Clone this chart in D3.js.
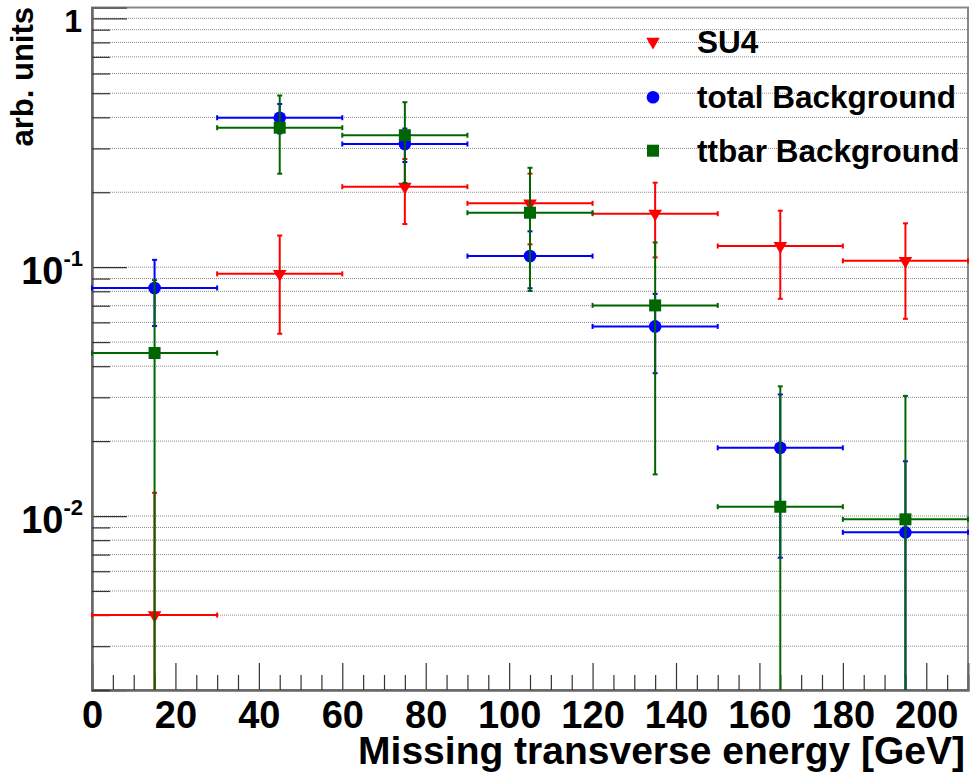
<!DOCTYPE html>
<html>
<head>
<meta charset="utf-8">
<script src="https://cdn.jsdelivr.net/npm/d3@7"></script>
<style>
  body { margin: 0; background: #fff; }
  svg { display: block; font-family: "Liberation Sans", Arial, sans-serif; font-weight: bold; }
</style>
</head>
<body>
<svg id="chart"></svg>
<script>
// bins of missing ET, 30 GeV wide
const binCenters = [15, 45, 75, 105, 135, 165, 195];
const binHalfWidth = 15;

const su4Values = [0.0040, 0.094, 0.2105, 0.1805, 0.164, 0.1216, 0.106];
const su4Errors = [0.0084, 0.040, 0.0615, 0.057, 0.0545, 0.047, 0.044];

const totalValues = [0.0825, 0.3985, 0.3125, 0.1108, 0.0578, 0.0188, 0.0086];
const totalErrors = [0.0245, 0.054, 0.048, 0.0285, 0.0203, 0.012, 0.008];

const ttbarValues = [0.0452, 0.3634, 0.339, 0.1655, 0.0702, 0.0109, 0.0097];
const ttbarErrors = [0.0435, 0.126, 0.121, 0.0853, 0.0555, 0.0223, 0.0207];

const xTickValues = [0, 20, 40, 60, 80, 100, 120, 140, 160, 180, 200];
const yLabelValues = [1, 0.1, 0.01];

const legendLabels = ["SU4", "total Background", "ttbar Background"];

const width = 973;
const height = 777;
const plot = { left: 92, right: 968, top: 7.5, bottom: 690 };

const xScale = d3.scaleLinear().domain([0, 210]).range([plot.left, plot.right]);
const yScale = d3
  .scaleLog()
  .domain([0.002, 1.105])
  .range([plot.bottom, plot.top])
  .clamp(true);

const svg = d3.select("#chart").attr("width", width).attr("height", height);
svg.append("rect").attr("width", width).attr("height", height).attr("fill", "#fff");

// log grid: every decade step inside the domain
const gridValues = [];
[0.001, 0.01, 0.1, 1].forEach(dec => {
  for (let k = 1; k <= 9; k++) {
    const v = dec * k;
    if (v >= 0.002 && v <= 1.105) gridValues.push(v);
  }
});
const majorY = gridValues.filter(v => Math.abs(Math.log10(v) - Math.round(Math.log10(v))) < 1e-9);
const minorY = gridValues.filter(v => !majorY.includes(v));

svg
  .append("g")
  .selectAll("line")
  .data(gridValues)
  .join("line")
  .attr("x1", plot.left)
  .attr("x2", plot.right)
  .attr("y1", d => yScale(d))
  .attr("y2", d => yScale(d))
  .attr("stroke", "#888")
  .attr("stroke-width", 1)
  .attr("stroke-dasharray", "1,1");

// frame
svg
  .append("rect")
  .attr("x", plot.left)
  .attr("y", plot.top)
  .attr("width", plot.right - plot.left)
  .attr("height", plot.bottom - plot.top)
  .attr("fill", "none")
  .attr("stroke", "#888")
  .attr("stroke-width", 2);

/* ***** axes ***** */
const xMajor = d3.axisBottom(xScale).tickValues(xTickValues).tickSize(-27).tickFormat(d3.format("d"));
const xMinor = d3
  .axisBottom(xScale)
  .tickValues(d3.range(0, 210, 5).filter(v => v % 20 !== 0))
  .tickSize(-15)
  .tickFormat("");

const xAxisG = svg.append("g").attr("transform", `translate(0, ${plot.bottom})`).call(xMajor);
svg.append("g").attr("transform", `translate(0, ${plot.bottom})`).call(xMinor);

xAxisG
  .selectAll("text")
  .attr("y", 38)
  .attr("dy", null)
  .attr("fill", "#000")
  .style("font-size", "38px")
  .style("font-family", '"Liberation Sans", Arial, sans-serif')
  .style("font-weight", "bold");

const yMajor = d3.axisLeft(yScale).tickValues(majorY).tickSize(-35).tickFormat("");
const yMinor = d3.axisLeft(yScale).tickValues(minorY).tickSize(-18).tickFormat("");
svg.append("g").attr("transform", `translate(${plot.left}, 0)`).call(yMajor);
svg.append("g").attr("transform", `translate(${plot.left}, 0)`).call(yMinor);

svg.selectAll(".domain").attr("stroke", "#666").attr("stroke-width", 2);
svg.selectAll(".tick line").attr("stroke", "#333").attr("stroke-width", 1.2);

// y labels drawn ROOT style: 1, 10^-1, 10^-2
yLabelValues.forEach(v => {
  const y = yScale(v);
  const exp = Math.round(Math.log10(v));
  if (exp === 0) {
    svg
      .append("text")
      .attr("x", 82)
      .attr("y", y + 14)
      .attr("text-anchor", "end")
      .style("font-size", "32px")
      .text("1");
  } else {
    const t = svg
      .append("text")
      .attr("x", 83)
      .attr("y", y + 17)
      .attr("text-anchor", "end");
    t.append("tspan").style("font-size", "38px").text("10");
    t.append("tspan").attr("dy", -18).style("font-size", "22px").text("-" + -exp);
  }
});
/* ***** axes ***** */

// axis titles
svg
  .append("text")
  .attr("x", 965)
  .attr("y", 764)
  .attr("text-anchor", "end")
  .style("font-size", "39px")
  .text("Missing transverse energy [GeV]");

svg
  .append("text")
  .attr("transform", "translate(33, 7) rotate(-90)")
  .attr("text-anchor", "end")
  .style("font-size", "31px")
  .text("arb. units");

/* ***** data ***** */
const series = [
  { values: su4Values, errors: su4Errors, color: "#ff0000", marker: "triangle" },
  { values: totalValues, errors: totalErrors, color: "#0000ff", marker: "circle" },
  { values: ttbarValues, errors: ttbarErrors, color: "#006600", marker: "square" }
];

const markerPath = {
  triangle: d3.symbol(d3.symbolTriangle, 80)(),
  circle: d3.symbol(d3.symbolCircle, 125)(),
  square: d3.symbol(d3.symbolSquare, 144)()
};
const markerTransform = (m, x, y) =>
  m === "triangle" ? `translate(${x}, ${y}) rotate(180)` : `translate(${x}, ${y})`;

const cap = 2.5;

series.forEach(s => {
  const pts = binCenters.map((c, i) => {
    const lo = s.values[i] - s.errors[i];
    return {
      x: xScale(c),
      x0: xScale(c - binHalfWidth),
      x1: xScale(c + binHalfWidth),
      y: yScale(s.values[i]),
      yHi: yScale(s.values[i] + s.errors[i]),
      yLo: lo > 0.002 ? yScale(lo) : plot.bottom,
      loClipped: !(lo > 0.002)
    };
  });

  const g = svg.append("g").attr("stroke", s.color).attr("stroke-width", 2);

  g.selectAll(".h")
    .data(pts)
    .join("line")
    .attr("x1", d => d.x0)
    .attr("x2", d => d.x1)
    .attr("y1", d => d.y)
    .attr("y2", d => d.y);

  g.selectAll(".v")
    .data(pts)
    .join("line")
    .attr("x1", d => d.x)
    .attr("x2", d => d.x)
    .attr("y1", d => d.yHi)
    .attr("y2", d => d.yLo);

  // small end caps
  pts.forEach(d => {
    g.append("line").attr("x1", d.x0).attr("x2", d.x0).attr("y1", d.y - cap).attr("y2", d.y + cap);
    g.append("line").attr("x1", d.x1).attr("x2", d.x1).attr("y1", d.y - cap).attr("y2", d.y + cap);
    g.append("line").attr("x1", d.x - cap).attr("x2", d.x + cap).attr("y1", d.yHi).attr("y2", d.yHi);
    if (!d.loClipped)
      g.append("line").attr("x1", d.x - cap).attr("x2", d.x + cap).attr("y1", d.yLo).attr("y2", d.yLo);
  });

  svg
    .append("g")
    .selectAll("path")
    .data(pts)
    .join("path")
    .attr("d", markerPath[s.marker])
    .attr("transform", d => markerTransform(s.marker, d.x, d.y))
    .attr("fill", s.color);
});
/* ***** data ***** */

// legend
const legendY = [41.7, 97.3, 150.7];
series.forEach((s, i) => {
  svg
    .append("path")
    .attr("d", markerPath[s.marker])
    .attr("transform", markerTransform(s.marker, 653, legendY[i]))
    .attr("fill", s.color);
  svg
    .append("text")
    .attr("x", 697)
    .attr("y", legendY[i] + 11)
    .style("font-size", "31.5px")
    .text(legendLabels[i]);
});
</script>
</body>
</html>
